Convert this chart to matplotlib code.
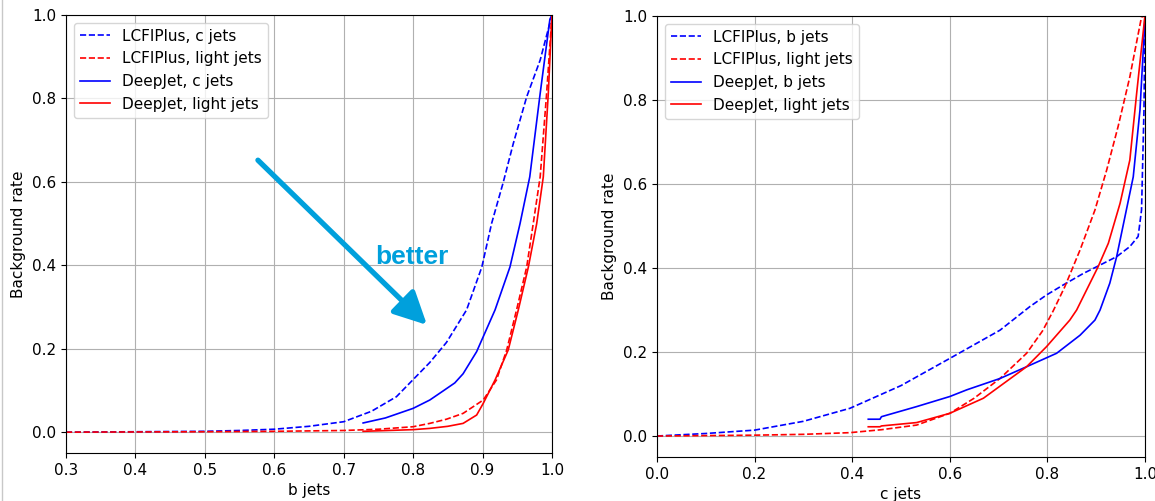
import matplotlib
matplotlib.use("Agg")
import matplotlib.pyplot as plt
from matplotlib.lines import Line2D

plt.rcParams['font.size'] = 11

# ---- left panel: b-tagging, x = b jets efficiency ----
b_lcfi_c_x = [0.30, 0.40, 0.50, 0.55, 0.60, 0.65, 0.70, 0.74, 0.776, 0.80, 0.824, 0.848, 0.877,
              0.899, 0.913, 0.930, 0.9443, 0.9636, 0.983, 1.00]
b_lcfi_c_y = [0.000, 0.001, 0.002, 0.004, 0.007, 0.014, 0.025, 0.050, 0.085, 0.126, 0.167, 0.215, 0.293,
              0.396, 0.500, 0.600, 0.692, 0.804, 0.892, 1.00]

b_lcfi_l_x = [0.30, 0.50, 0.60, 0.70, 0.75, 0.80, 0.824, 0.848, 0.872, 0.901, 0.920, 0.9348,
              0.949, 0.9636, 0.973, 0.983, 0.9923, 1.00]
b_lcfi_l_y = [0.000, 0.001, 0.002, 0.004, 0.007, 0.013, 0.021, 0.031, 0.045, 0.077, 0.125, 0.197,
              0.293, 0.396, 0.500, 0.612, 0.812, 1.00]

b_deep_c_x = [0.728, 0.76, 0.80, 0.824, 0.8434, 0.860, 0.872, 0.8915, 0.918, 0.9395, 0.954, 0.968,
              0.983, 0.997, 1.00]
b_deep_c_y = [0.022, 0.034, 0.057, 0.077, 0.099, 0.118, 0.140, 0.193, 0.293, 0.396, 0.500, 0.612,
              0.812, 0.990, 1.00]

b_deep_l_x = [0.728, 0.80, 0.824, 0.85, 0.872, 0.8915, 0.901, 0.918, 0.937, 0.9515, 0.966,
              0.978, 0.9875, 0.9947, 1.00]
b_deep_l_y = [0.002, 0.006, 0.009, 0.014, 0.021, 0.041, 0.069, 0.125, 0.197, 0.293, 0.396,
              0.500, 0.612, 0.812, 1.00]

# ---- right panel: c-tagging, x = c jets efficiency ----
c_lcfi_b_x = [0.00, 0.10, 0.20, 0.30, 0.3955, 0.50, 0.6004, 0.703, 0.764, 0.7985, 0.833, 0.8736,
              0.901, 0.942, 0.969, 0.986, 0.993, 0.998, 1.00]
c_lcfi_b_y = [0.000, 0.006, 0.014, 0.035, 0.066, 0.120, 0.185, 0.252, 0.308, 0.336, 0.360, 0.387,
              0.403, 0.427, 0.451, 0.475, 0.538, 0.776, 1.00]

c_lcfi_l_x = [0.00, 0.20, 0.30, 0.3955, 0.46, 0.532, 0.60, 0.65, 0.703, 0.7575, 0.790, 0.812, 0.836,
              0.867, 0.8975, 0.9215, 0.945, 0.969, 0.993, 1.00]
c_lcfi_l_y = [0.000, 0.002, 0.004, 0.008, 0.015, 0.026, 0.054, 0.090, 0.137, 0.197, 0.250, 0.298, 0.356,
              0.443, 0.538, 0.633, 0.737, 0.855, 0.998, 1.00]

c_deep_b_x = [0.433, 0.457, 0.460, 0.532, 0.600, 0.635, 0.703, 0.7575, 0.819, 0.867, 0.8975,
              0.908, 0.928, 0.942, 0.959, 0.976, 0.9898, 0.998, 1.00]
c_deep_b_y = [0.040, 0.040, 0.046, 0.070, 0.094, 0.110, 0.137, 0.165, 0.197, 0.240, 0.276,
              0.300, 0.364, 0.427, 0.522, 0.617, 0.776, 0.950, 1.00]

c_deep_l_x = [0.433, 0.457, 0.460, 0.532, 0.600, 0.669, 0.7575, 0.7985, 0.846, 0.860, 0.8805,
              0.904, 0.925, 0.949, 0.969, 0.983, 0.999, 1.00]
c_deep_l_y = [0.022, 0.022, 0.024, 0.032, 0.054, 0.090, 0.165, 0.213, 0.276, 0.300, 0.348,
              0.403, 0.459, 0.554, 0.657, 0.816, 0.990, 1.00]

arrow_start = (0.5765, 0.652)
arrow_tip = (0.82, 0.257)
arrow_col = '#00a0dc'

fig = plt.figure(figsize=(11.55, 5.01), dpi=100)
ax1 = fig.add_axes([0.0571, 0.0958, 0.4208, 0.8742])
ax2 = fig.add_axes([0.5688, 0.0878, 0.4225, 0.8802])

lw = 1.2
ax1.plot(b_lcfi_c_x, b_lcfi_c_y, 'b--', lw=lw, label='LCFIPlus, c jets')
ax1.plot(b_lcfi_l_x, b_lcfi_l_y, 'r--', lw=lw, label='LCFIPlus, light jets')
ax1.plot(b_deep_c_x, b_deep_c_y, 'b-', lw=lw, label='DeepJet, c jets')
ax1.plot(b_deep_l_x, b_deep_l_y, 'r-', lw=lw, label='DeepJet, light jets')
ax1.set_xlim(0.3, 1.0)
ax1.set_ylim(-0.05, 1.0)
ax1.set_xlabel('b jets')
ax1.set_ylabel('Background rate')

ax1.annotate('', xy=arrow_tip, xytext=arrow_start,
             arrowprops=dict(arrowstyle='-|>,head_length=0.9,head_width=0.45',
                             lw=3.8, color=arrow_col, mutation_scale=22,
                             shrinkA=0, shrinkB=0))
ax1.text(0.745, 0.42, 'better', color=arrow_col, fontsize=19, fontweight='bold',
         family='Liberation Sans', va='center', ha='left')

ax2.plot(c_lcfi_b_x, c_lcfi_b_y, 'b--', lw=lw, label='LCFIPlus, b jets')
ax2.plot(c_lcfi_l_x, c_lcfi_l_y, 'r--', lw=lw, label='LCFIPlus, light jets')
ax2.plot(c_deep_b_x, c_deep_b_y, 'b-', lw=lw, label='DeepJet, b jets')
ax2.plot(c_deep_l_x, c_deep_l_y, 'r-', lw=lw, label='DeepJet, light jets')
ax2.set_xlim(0.0, 1.0)
ax2.set_ylim(-0.05, 1.0)
ax2.set_xlabel('c jets')
ax2.set_ylabel('Background rate')

for ax in (ax1, ax2):
    ax.grid(True)
    ax.legend(loc='upper left')

# thin frame line at the left of the screenshot
fig.add_artist(Line2D([0.002, 0.002], [0, 1], color='#c8c8c8', lw=1.0,
                      transform=fig.transFigure))

fig.savefig('out.png', dpi=100)
